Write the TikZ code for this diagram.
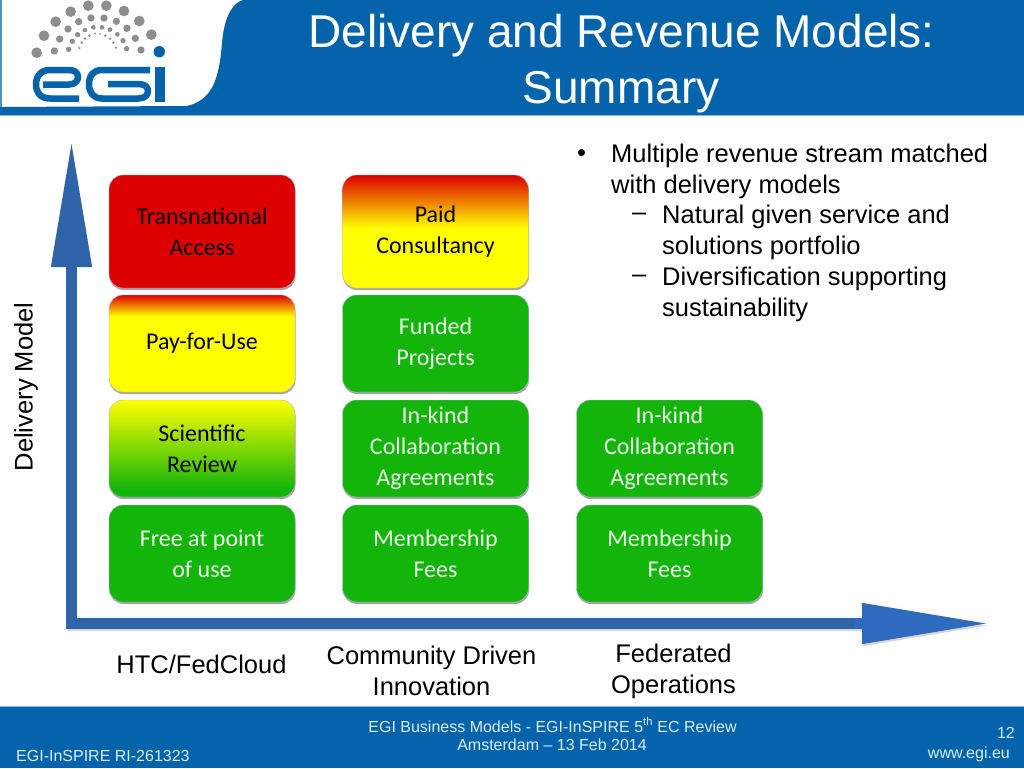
\documentclass[tikz,border=0pt]{standalone}
\usepackage{fontspec}
\setmainfont{Liberation Sans}
\newfontfamily\boxfont{Carlito}
\usetikzlibrary{shadows,arrows.meta}
\definecolor{egiblue}{HTML}{0563AC}
\definecolor{axisblue}{HTML}{2F65A8}
\definecolor{axisblueb}{HTML}{2E6BBE}
\definecolor{okgreen}{HTML}{14B50A}
\definecolor{hotred}{HTML}{DD0000}
\definecolor{dotgray}{HTML}{8E8E8E}
\definecolor{foottext}{HTML}{D8EEFA}
\pgfdeclareverticalshading{redyellowA}{100bp}{color(0bp)=(yellow);color(51.5bp)=(yellow);color(75bp)=(hotred);color(100bp)=(hotred)}
\pgfdeclareverticalshading{redyellowB}{100bp}{color(0bp)=(yellow);color(64bp)=(yellow);color(75bp)=(hotred);color(100bp)=(hotred)}
\pgfdeclareverticalshading{yellowgreen}{100bp}{color(0bp)=(okgreen);color(29bp)=(okgreen);color(75bp)=(yellow);color(100bp)=(yellow)}
\tikzset{
  x=1pt,y=-1pt,
  tilebox/.style={rounded corners=14pt,minimum width=186pt,inner sep=0pt,align=center,
    font=\boxfont\fontsize{24}{31}\selectfont,draw=black!35!blue!30,line width=0.4pt,
    drop shadow={shadow xshift=0.5pt,shadow yshift=-2pt,opacity=0.35,fill=black}},
  greentile/.style={tilebox,fill=okgreen,text=white!92!green},
  axisline/.style={line width=11pt,line cap=butt},
  bodytext/.style={anchor=west,inner sep=0pt,font=\fontsize{25.5}{30}\selectfont,text=black},
  axislabel/.style={inner sep=0pt,align=center,font=\fontsize{25.5}{31}\selectfont},
  foot/.style={inner sep=0pt,text=foottext,font=\fontsize{16}{20}\selectfont},
}
\begin{document}
\begin{tikzpicture}
\useasboundingbox (0,0) rectangle (1024,768);
\fill[white] (0,0) rectangle (1024,768);
% header
\fill[egiblue] (0,115) -- (0,107) -- (187,106) .. controls (212,100) and (219,80) .. (222,43)
  .. controls (224,18) and (232,3) .. (243,0) -- (1024,0) -- (1024,115) -- cycle;
\fill[egiblue!70] (0,0) rectangle (1.5,107);
\fill[egiblue!45] (0,115) rectangle (1024,116);
% logo dots
\foreach \X/\Y/\R in {110/158/16,132/107/16,167/65/16,212/35/16,265/17/16,319/17/16,372/33/16,418/63/16,454/104/16,
 163/153/11,179/117/11,204/87/11,236/65/11,273/54/11,312/54/11,349/64/11,381/85/11,406/115/11,423/150/11,
 206/148/8,217/124/8,233/104/8,255/90/7,280/82/7,306/82/7,330/89/7,352/103/7,369/122/8,380/146/8,
 238/144/4,245/128/4,255/116/4,268/107/4,285/101/3,300/102/3,316/107/4,330/116/4,340/128/4,348/143/4}
  \fill[dotgray] ({\X/3},{\Y/3}) circle ({\R/3});
\fill[egiblue] (159.3,51.7) circle (5.7);
% logo letters
\draw[egiblue,line width=6.5pt,line join=round]
  (79,98.5) -- (50,98.5) .. controls (40,98.5) and (36,92) .. (36,84.5)
  .. controls (36,76) and (41,70) .. (50,70) -- (69,70) .. controls (75,70) and (78,73) .. (78,77)
  .. controls (78,81) and (75,84.5) .. (69,84.5) -- (43,84.5);
\draw[egiblue,line width=6.5pt,line join=round]
  (150,70) -- (102,70) .. controls (93,70) and (89,76) .. (89,84.5)
  .. controls (89,92) and (93,98.5) .. (102,98.5) -- (138,98.5) .. controls (145,98.5) and (148,95) .. (148,91)
  .. controls (148,87) and (145,84) .. (138,84) -- (108,84);
\fill[egiblue] (155,66.5) rectangle (164.5,102);
% title
\node[inner sep=0pt,text=white,font=\fontsize{46}{54}\selectfont] (title1) at (621.5,36) {Delivery and Revenue Models:};
\node[inner sep=0pt,text=white,font=\fontsize{46}{54}\selectfont] (title2) at (621,92) {Summary};
% axes
\coordinate (origin) at (71.5,623.5);
\coordinate (originh) at (66,623.5);
\coordinate (ytip) at (71.5,140);
\coordinate (xtip) at (990,623.5);
\draw[axisline,black!30,opacity=.5,-{Triangle[length=128pt,width=38pt,sharp]}] ([shift={(1,2)}]originh) -- ([shift={(1,2)}]xtip);
\draw[axisline,axisblue,-{Triangle[length=127pt,width=38pt,sharp]}] (71.5,629) -- (ytip);
\draw[axisline,axisblue] (originh) -- (862,623.5);
\draw[axisline,axisblueb,-{Triangle[length=128pt,width=38pt,sharp]}] (855,623.5) -- (xtip);
% row 1
\node[tilebox,fill=hotred,text=black,minimum height=113pt] (ta) at (202,231.5) {Transnational\\Access};
\node[tilebox,shading=redyellowA,text=black,minimum height=113pt] (pc) at (435.5,231.5) {Paid\\Consultancy};
% row 2
\node[tilebox,shading=redyellowB,text=black,minimum height=97pt] (pfu) at (202,343.5) {Pay-for-Use};
\node[greentile,minimum height=97pt] (fp) at (435.5,343.5) {Funded\\Projects};
% row 3
\node[tilebox,shading=yellowgreen,text=black,minimum height=97pt] (sr) at (202,448.5) {Scientific\\Review};
\node[greentile,minimum height=97pt] (ik1) at (435.5,448.5) {In-kind\\Collaboration\\Agreements};
\node[greentile,minimum height=97pt] (ik2) at (669.5,448.5) {In-kind\\Collaboration\\Agreements};
% row 4
\node[greentile,minimum height=97pt] (fu) at (202,553.5) {Free at point\\of use};
\node[greentile,minimum height=97pt] (mf1) at (435.5,553.5) {Membership\\Fees};
\node[greentile,minimum height=97pt] (mf2) at (669.5,553.5) {Membership\\Fees};
% labels
\node[inner sep=0pt,rotate=90,font=\fontsize{25.5}{30}\selectfont] (ylab) at (26,387) {Delivery Model};
\node[axislabel] (l1) at (201.5,664) {HTC/FedCloud};
\node[axislabel] (l2) at (431.5,671) {Community Driven\\Innovation};
\node[axislabel] (l3) at (673.5,671) {Federated\\Operations};
% bullets
\node[bodytext] (b0) at (577,156) {•};
\node[bodytext] (b1) at (611,156) {Multiple revenue stream matched};
\node[bodytext] (b2) at (611,186.5) {with delivery models};
\node[bodytext] (b3d) at (632,217) {–};
\node[bodytext] (b3) at (662,217) {Natural given service and};
\node[bodytext] (b4) at (662,248) {solutions portfolio};
\node[bodytext] (b5d) at (632,278.5) {–};
\node[bodytext] (b5) at (662,278.5) {Diversification supporting};
\node[bodytext] (b6) at (662,309.5) {sustainability};
% footer
\fill[egiblue] (0,707) rectangle (1024,768);
\fill[egiblue!45] (0,706) rectangle (1024,707);
\node[foot] (f1) at (552.5,725) {EGI Business Models - EGI-InSPIRE 5\textsuperscript{th} EC Review};
\node[foot] (f2) at (552,745) {Amsterdam – 13 Feb 2014};
\node[foot,anchor=west] (f3) at (16,756) {EGI-InSPIRE RI-261323};
\node[foot,anchor=east] (f4) at (1015,733) {12};
\node[foot,anchor=east] (f5) at (1010,754) {www.egi.eu};
\end{tikzpicture}
\end{document}
